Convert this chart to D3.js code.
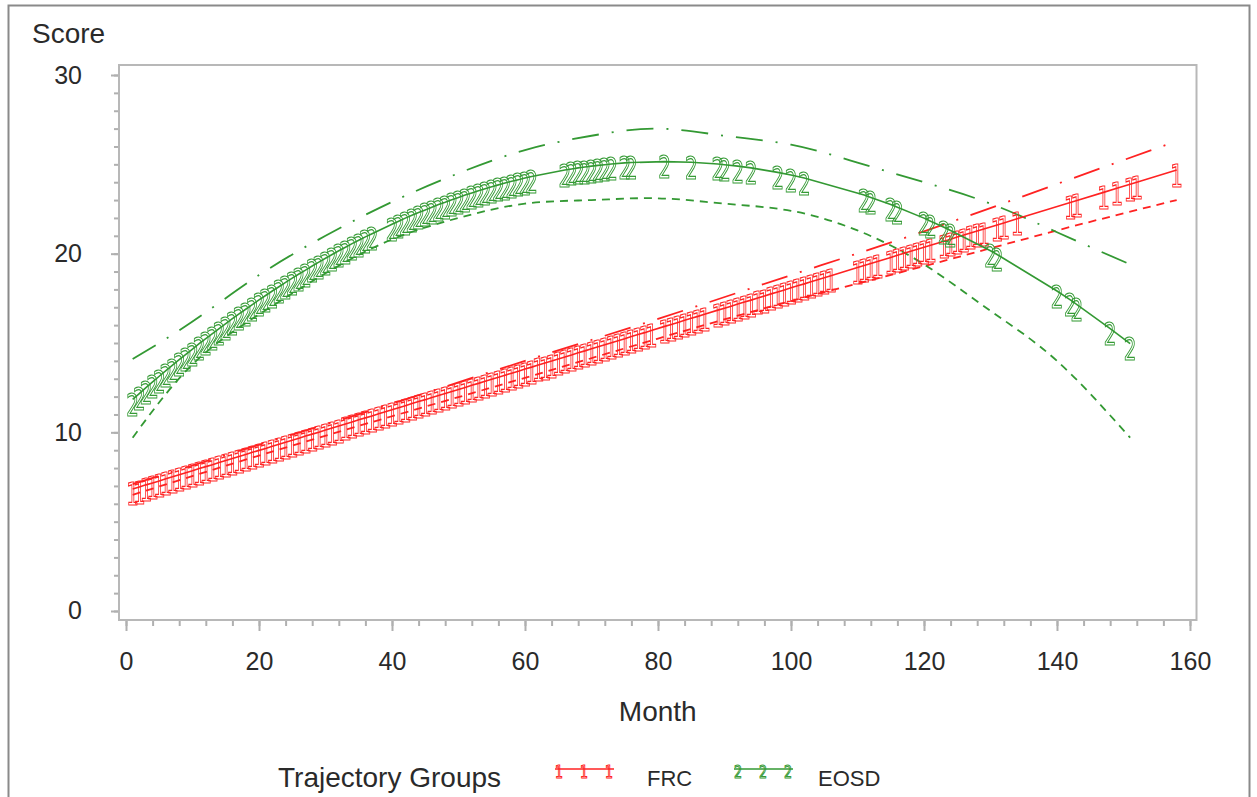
<!DOCTYPE html>
<html>
<head>
<meta charset="utf-8">
<script src="https://cdn.jsdelivr.net/npm/d3@7"></script>
<style>
  body { margin: 0; background: #fff; }
  svg text { font-family: "Liberation Sans", Arial, sans-serif; }
  .sym { opacity: 0.99; }
</style>
</head>
<body>
<div id="chart"></div>
<script>
// ---- data ----
var xTicks = [0, 20, 40, 60, 80, 100, 120, 140, 160];
var yTicks = [0, 10, 20, 30];
var groupNames = ["FRC", "EOSD"];

// group 1 (FRC): months with a plotted point and the score at that month
var frcMonths = [1,2,3,4,5,6,7,8,9,10,11,12,13,14,15,16,17,18,19,20,
  21,22,23,24,25,26,27,28,29,30,31,32,33,34,35,36,37,38,39,40,
  41,42,43,44,45,46,47,48,49,50,51,52,53,54,55,56,57,58,59,60,
  61,62,63,64,65,66,67,68,69,70,71,72,73,74,75,76,77,78,79,
  81,82,83,84,85,86,87,89,90,91,92,93,94,95,96,97,98,99,100,
  101,102,103,104,105,106,110,111,112,113,115,116,117,118,119,120,121,
  123,124,125,126,127,128,129,131,132,134,142,143,147,149,151,152,158];
var frcScores = [6.83,6.94,7.06,7.17,7.28,7.40,7.51,7.63,7.74,7.85,
  7.97,8.08,8.19,8.31,8.42,8.54,8.65,8.76,8.88,8.99,
  9.10,9.22,9.33,9.45,9.56,9.67,9.79,9.90,10.01,10.13,
  10.24,10.35,10.47,10.58,10.70,10.81,10.92,11.04,11.15,11.26,
  11.38,11.49,11.61,11.72,11.83,11.95,12.06,12.17,12.29,12.40,
  12.51,12.63,12.74,12.86,12.97,13.08,13.20,13.31,13.42,13.54,
  13.65,13.77,13.88,13.99,14.11,14.22,14.33,14.45,14.56,14.68,
  14.79,14.90,15.02,15.13,15.24,15.36,15.47,15.58,15.70,
  15.93,16.04,16.15,16.27,16.38,16.49,16.61,
  16.84,16.95,17.06,17.18,17.29,17.40,17.52,17.63,17.75,17.86,17.97,18.09,
  18.20,18.31,18.43,18.54,18.65,18.77,19.22,19.34,19.45,19.56,
  19.79,19.91,20.02,20.13,20.25,20.36,20.47,
  20.70,20.81,20.93,21.04,21.16,21.27,21.38,21.61,21.72,21.95,
  22.86,22.97,23.43,23.66,23.89,24.00,24.68];

// group 1 confidence bands
var frcBandMonths = [1, 20, 40, 60, 80, 100, 120, 140, 158];
var frcUpper = [7.1, 9.3, 11.6, 14.0, 16.35, 18.8, 21.25, 23.9, 26.3];
var frcLower = [6.5, 8.7, 10.9, 13.05, 15.25, 17.35, 19.3, 21.3, 23.0];

// group 2 (EOSD)
var eosdMonths = [1,2,3,4,5,6,7,8,9,10,11,12,13,14,15,16,17,18,19,20,
  21,22,23,24,25,26,27,28,29,30,31,32,33,34,35,36,37,
  40,41,42,43,44,45,46,47,48,49,50,51,52,53,54,55,56,57,58,59,60,61,
  66,67,68,69,70,71,72,73,75,76,81,85,89,90,92,94,98,100,102,
  111,112,115,116,120,121,123,124,130,131,140,142,143,148,151];
var eosdScores = [11.84,12.17,12.50,12.82,13.14,13.45,13.76,14.07,14.37,14.66,
  14.96,15.25,15.53,15.81,16.09,16.36,16.63,16.89,17.15,17.41,
  17.66,17.91,18.15,18.39,18.63,18.86,19.08,19.31,19.53,19.74,
  19.95,20.16,20.36,20.56,20.75,20.94,21.12,
  21.65,21.82,21.99,22.15,22.30,22.45,22.60,22.75,22.88,23.02,23.15,
  23.28,23.40,23.52,23.63,23.74,23.85,23.95,24.05,24.14,24.23,24.32,
  24.68,24.74,24.80,24.85,24.90,24.94,24.98,25.02,25.08,25.10,
  25.15,25.12,25.02,24.98,24.90,24.80,24.55,24.40,24.23,
  23.28,23.15,22.75,22.60,21.99,21.82,21.48,21.30,20.16,19.95,
  17.91,17.41,17.15,15.81,14.96];

// group 2 confidence bands
var eosdBandMonths = [1, 10, 20, 30, 40, 50, 60, 70, 80, 90, 100, 110, 120, 130, 140, 151];
var eosdUpper = [14.1, 16.2, 18.8, 21.0, 22.9, 24.5, 25.8, 26.6, 27.0, 26.6, 26.1, 25.1, 24.0, 22.8, 21.2, 19.4];
var eosdLower = [9.7, 13.8, 16.6, 18.9, 20.8, 22.0, 22.8, 23.0, 23.1, 22.8, 22.4, 21.3, 19.4, 16.8, 14.0, 9.7];

var red = "#f22";
var green = "#339933";

function init() {
    var w = 1257, h = 797;

    var svg = d3.select("#chart").append("svg")
        .attr("width", w)
        .attr("height", h);

    // outer frame
    svg.append("rect")
        .attr("x", 8.5).attr("y", 5.5)
        .attr("width", 1241).attr("height", 820)
        .attr("fill", "none")
        .attr("stroke", "#8a8a8a")
        .attr("stroke-width", 2);

    var left = 119, right = 1196.5, top = 65, bottom = 620;

    var xScale = d3.scaleLinear().domain([-1.053, 160.98]).range([left, right]);
    var yScale = d3.scaleLinear().domain([-0.504, 30.56]).range([bottom, top]);

    // minor ticks first
    var xMinor = d3.axisBottom(xScale).tickValues(d3.range(0, 161, 4)).tickSize(6).tickFormat("");
    var yMinor = d3.axisLeft(yScale).tickValues(d3.range(0, 31, 1)).tickSize(5).tickFormat("");
    var xAxis = d3.axisBottom(xScale).tickValues(xTicks).tickSize(11).tickPadding(21);
    var yAxis = d3.axisLeft(yScale).tickValues(yTicks).tickSize(8).tickPadding(29);

    [[xMinor, "x"], [xAxis, "x"], [yMinor, "y"], [yAxis, "y"]].forEach(function (a) {
        var g = svg.append("g")
            .attr("transform", a[1] == "x" ? "translate(0," + bottom + ")" : "translate(" + left + ",0)")
            .call(a[0]);
        g.select(".domain").remove();
        g.selectAll("line").attr("stroke", "#b0b0b0").attr("stroke-width", 2);
        g.selectAll("text").attr("fill", "#2a2a2a").style("font-size", "25px");
    });

    // plot frame
    svg.append("rect")
        .attr("x", left).attr("y", top)
        .attr("width", right - left).attr("height", bottom - top)
        .attr("fill", "none")
        .attr("stroke", "#b8b8b8")
        .attr("stroke-width", 2);

    // axis labels
    svg.append("text").attr("x", 32).attr("y", 43)
        .style("font-size", "28px").attr("fill", "#2a2a2a").text("Score");
    svg.append("text").attr("x", (left + right) / 2).attr("y", 721)
        .attr("text-anchor", "middle")
        .style("font-size", "28px").attr("fill", "#2a2a2a").text("Month");

    var curve = d3.line()
        .x(function (d) { return xScale(d[0]); })
        .y(function (d) { return yScale(d[1]); })
        .curve(d3.curveNatural);
    var straight = d3.line()
        .x(function (d) { return xScale(d[0]); })
        .y(function (d) { return yScale(d[1]); });

    function band(months, vals, color, dash) {
        svg.append("path")
            .datum(months.map(function (m, i) { return [m, vals[i]]; }))
            .attr("d", curve)
            .attr("fill", "none")
            .attr("stroke", color)
            .attr("stroke-width", 1.8)
            .attr("stroke-dasharray", dash);
    }

    function glyphs(months, vals, ch, color) {
        svg.append("path")
            .datum(months.map(function (m, i) { return [m, vals[i]]; }))
            .attr("d", straight)
            .attr("fill", "none")
            .attr("stroke", color)
            .attr("stroke-width", 1.6);

        svg.append("g").attr("class", "sym").selectAll("text")
            .data(months)
            .enter().append("text")
            .attr("transform", function (m, i) {
                return "translate(" + xScale(m) + "," + (yScale(vals[i]) + 16.5) + ") scale(0.62,1)";
            })
            .attr("text-anchor", "middle")
            .style("font-family", "'DejaVu Sans', sans-serif")
            .style("font-size", "32px")
            .attr("fill", "none")
            .attr("stroke", color)
            .attr("stroke-width", 1)
            .attr("vector-effect", "non-scaling-stroke")
            .text(ch);
    }

    band(frcBandMonths, frcUpper, red, "27,13,2,13");
    band(frcBandMonths, frcLower, red, "8,6");
    band(eosdBandMonths, eosdUpper, green, "27,13,2,13");
    band(eosdBandMonths, eosdLower, green, "8,6");

    glyphs(frcMonths, frcScores, "1", red);
    glyphs(eosdMonths, eosdScores, "2", green);

    // legend
    var ly = 769;
    svg.append("text").attr("x", 278).attr("y", 787)
        .style("font-size", "28px").attr("fill", "#2a2a2a").text("Trajectory Groups");

    var legendItems = [
        { name: groupNames[0], ch: "1", color: red, x0: 555, tx: 647 },
        { name: groupNames[1], ch: "2", color: green, x0: 734, tx: 818 }
    ];
    legendItems.forEach(function (it) {
        svg.append("line")
            .attr("x1", it.x0).attr("x2", it.x0 + 59)
            .attr("y1", ly).attr("y2", ly)
            .attr("stroke", it.color).attr("stroke-width", 1.6);
        var lg = svg.append("g").attr("class", "sym");
        [4, 29, 54].forEach(function (dx) {
            lg.append("text")
                .attr("transform", "translate(" + (it.x0 + dx) + "," + (ly + 9) + ") scale(0.7,1)")
                .attr("text-anchor", "middle")
                .style("font-family", "'DejaVu Sans', sans-serif")
                .style("font-size", "18px")
                .attr("fill", "none")
                .attr("stroke", it.color)
                .attr("stroke-width", 1)
                .attr("vector-effect", "non-scaling-stroke")
                .text(it.ch);
        });
        svg.append("text").attr("x", it.tx).attr("y", 786)
            .style("font-size", "22px").attr("fill", "#2a2a2a").text(it.name);
    });
}

window.onload = init;
</script>
</body>
</html>
